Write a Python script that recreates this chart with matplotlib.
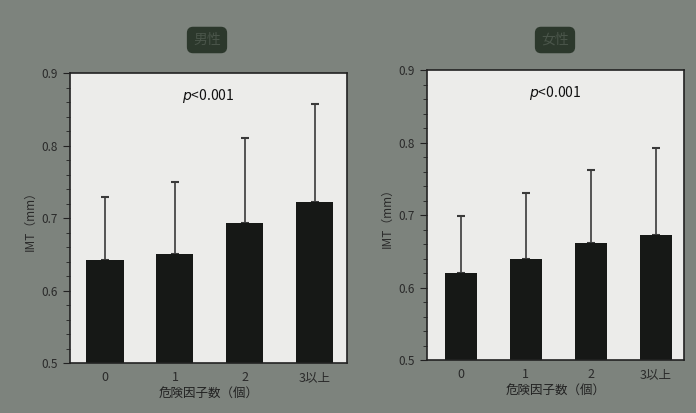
import matplotlib.pyplot as plt
import numpy as np

plt.rcParams['font.family'] = ['Noto Sans CJK JP', 'DejaVu Sans']

# --- データ ---
categories = ['0', '1', '2', '3以上']
male_mean = [0.642, 0.651, 0.693, 0.722]
male_sd = [0.087, 0.099, 0.117, 0.136]
female_mean = [0.620, 0.639, 0.661, 0.672]
female_sd = [0.079, 0.091, 0.101, 0.121]
titles = ['男性', '女性']

fig = plt.figure(figsize=(6.96, 4.13), dpi=100, facecolor='#7d837d')

ax1 = fig.add_axes([0.1006, 0.121, 0.398, 0.702])
ax2 = fig.add_axes([0.6135, 0.128, 0.369, 0.702])

panels = [
    (ax1, male_mean, male_sd, (-0.5, 3.46), 0.53, 207),
    (ax2, female_mean, female_sd, (-0.52, 3.43), 0.50, 555),
]

x = np.arange(len(categories))
for (ax, mean, sd, xlim, w, tx), title in zip(panels, titles):
    ax.set_facecolor('#ececea')
    ax.bar(x, np.array(mean) - 0.5, bottom=0.5, width=w, color='#161816', zorder=2)
    ax.errorbar(x, mean, yerr=[np.zeros(len(sd)), sd], fmt='none',
                ecolor='#3a3a3a', elinewidth=1.2, capsize=3, capthick=1.5, zorder=1)
    ax.set_xlim(*xlim)
    ax.set_ylim(0.5, 0.9)
    ax.set_yticks([0.5, 0.6, 0.7, 0.8, 0.9])
    ax.set_yticks(np.arange(0.5, 0.901, 0.02), minor=True)
    ax.set_yticklabels(['0.5', '0.6', '0.7', '0.8', '0.9'])
    ax.set_xticks(x)
    ax.set_xticklabels(categories)
    ax.tick_params(axis='y', which='major', length=5, color='#222222', labelsize=8.5, labelcolor='#2a2a2a')
    ax.tick_params(axis='y', which='minor', length=3, color='#222222')
    ax.tick_params(axis='x', length=0, labelsize=9, labelcolor='#2a2a2a', pad=6)
    for s in ax.spines.values():
        s.set_color('#222222')
        s.set_linewidth(1.2)
    ax.set_ylabel('IMT（mm）', fontsize=8.5, color='#2a2a2a', labelpad=4)
    ax.set_xlabel('危険因子数（個）', fontsize=9, color='#222222', labelpad=2)
    ax.text(0.5, 0.92, r'$p$<0.001', transform=ax.transAxes, ha='center', va='center',
            fontsize=10, color='#111111')
    fig.text(tx / 696, 1 - 40 / 413, title, ha='center', va='center', fontsize=10,
             color='#4a554a',
             bbox=dict(boxstyle='round,pad=0.4', facecolor='#2c382c', edgecolor='#2c382c'))

plt.savefig('out.png', dpi=100, facecolor=fig.get_facecolor())
